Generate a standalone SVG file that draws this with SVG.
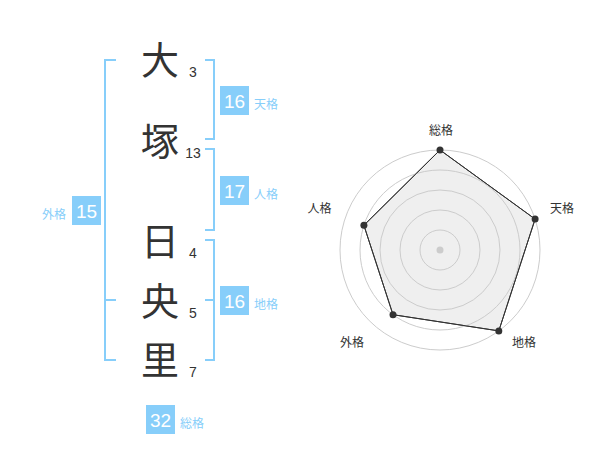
<svg xmlns="http://www.w3.org/2000/svg" width="600" height="470" viewBox="0 0 600 470">
<style>
.kanji{font-family:"Noto Sans CJK JP",sans-serif;font-size:38px;fill:#333;text-anchor:middle}
.stroke{font-family:"Liberation Sans",Arial,sans-serif;font-size:14px;fill:#333;text-anchor:middle}
.br{fill:none;stroke:#87cefa;stroke-width:2}
.box{fill:#87cefa}
.bnum{font-family:"Liberation Sans",Arial,sans-serif;font-size:19px;fill:#fff;text-anchor:middle}
.blab{font-family:"Noto Sans CJK JP",sans-serif;font-size:12px;fill:#87cefa}
.ring{fill:none;stroke:#ccc;stroke-width:1}
.rlab{font-family:"Noto Sans CJK JP",sans-serif;font-size:12px;fill:#333;text-anchor:middle}
.dot{fill:#333}
</style>
<g id="connectors">
<path class="br" d="M116,60 H105 V360 H116 M105,300 H116"/>
<path class="br" d="M205,60 H214 V139 H205"/>
<path class="br" d="M205,149 H214 V230 H205"/>
<path class="br" d="M205,240 H214 V360 H205 M205,300 H214"/>
</g>
<g id="char-1"><text class="kanji" x="160" y="74">大</text><text class="stroke" x="193" y="77">3</text></g>
<g id="char-2"><text class="kanji" x="160" y="155">塚</text><text class="stroke" x="193" y="158">13</text></g>
<g id="char-3"><text class="kanji" x="160" y="255">日</text><text class="stroke" x="193" y="258">4</text></g>
<g id="char-4"><text class="kanji" x="160" y="315">央</text><text class="stroke" x="193" y="318">5</text></g>
<g id="char-5"><text class="kanji" x="160" y="374">里</text><text class="stroke" x="193" y="377">7</text></g>
<g id="tenkaku"><rect class="box" x="220" y="86" width="29" height="29"/><text class="bnum" x="234.5" y="108">16</text><text class="blab" x="254" y="109">天格</text></g>
<g id="jinkaku"><rect class="box" x="220" y="176" width="29" height="29"/><text class="bnum" x="234.5" y="198">17</text><text class="blab" x="254" y="199">人格</text></g>
<g id="chikaku"><rect class="box" x="220" y="286" width="29" height="29"/><text class="bnum" x="234.5" y="308">16</text><text class="blab" x="254" y="309">地格</text></g>
<g id="gaikaku"><rect class="box" x="72" y="196" width="29" height="29"/><text class="bnum" x="86.5" y="218">15</text><text class="blab" x="66" y="219" text-anchor="end">外格</text></g>
<g id="soukaku"><rect class="box" x="146" y="405" width="29" height="29"/><text class="bnum" x="160.5" y="427">32</text><text class="blab" x="180" y="428">総格</text></g>
<g id="radar">
<polygon points="440,150 535.1,219.1 498.8,330.9 393,314.7 363.9,225.3" fill="#efefef" stroke="#333" stroke-width="1"/>
<circle class="ring" cx="440" cy="250" r="20"/>
<circle class="ring" cx="440" cy="250" r="40"/>
<circle class="ring" cx="440" cy="250" r="60"/>
<circle class="ring" cx="440" cy="250" r="80"/>
<circle class="ring" cx="440" cy="250" r="100"/>
<circle cx="440" cy="250" r="3.5" fill="#ccc"/>
<polyline points="440,150 535.1,219.1 498.8,330.9 393,314.7 363.9,225.3 440,150" fill="none" stroke="#333" stroke-width="1"/>
<circle class="dot" cx="440" cy="150" r="3.5"/>
<circle class="dot" cx="535.1" cy="219.1" r="3.5"/>
<circle class="dot" cx="498.8" cy="330.9" r="3.5"/>
<circle class="dot" cx="393" cy="314.7" r="3.5"/>
<circle class="dot" cx="363.9" cy="225.3" r="3.5"/>
<text class="rlab" x="441" y="135">総格</text>
<text class="rlab" x="562" y="213">天格</text>
<text class="rlab" x="524" y="347">地格</text>
<text class="rlab" x="352" y="347">外格</text>
<text class="rlab" x="319.5" y="213">人格</text>
</g>
</svg>
